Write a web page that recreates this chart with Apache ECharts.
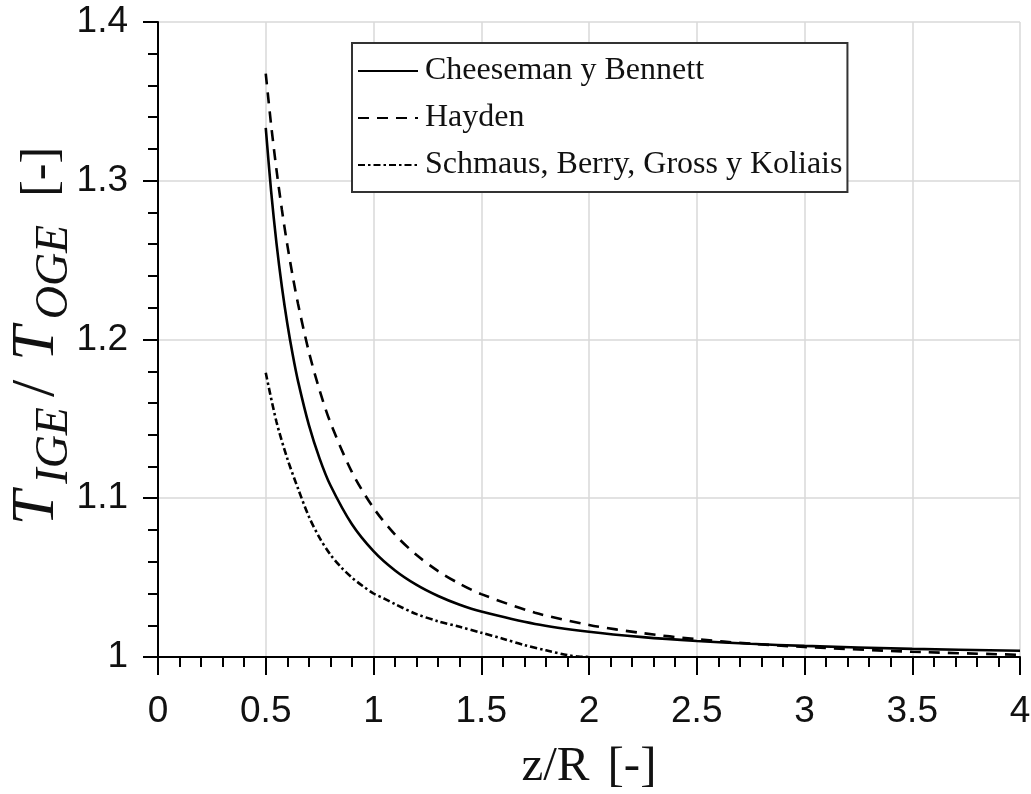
<!DOCTYPE html>
<html>
<head>
<meta charset="utf-8">
<script src="https://cdn.jsdelivr.net/npm/echarts@6/dist/echarts.min.js"></script>
<style>
html,body{margin:0;padding:0;background:#fff;}
#chart{width:1031px;height:794px;}
</style>
</head>
<body>
<div id="chart"></div>
<script>
// ---- Data ----
const seriesNames = ['Cheeseman y Bennett', 'Hayden', 'Schmaus, Berry, Gross y Koliais'];

const cbX = [0.5,0.525,0.55,0.575,0.6,0.625,0.65,0.7,0.75,0.8,0.9,1.0,1.1,1.2,1.3,1.4,1.5,1.75,2.0,2.25,2.5,2.75,3.0,3.5,4.0];
const cbY = [1.3333,1.2933,1.2604,1.2331,1.2101,1.1905,1.1736,1.1462,1.125,1.1082,1.0836,1.0667,1.0545,1.0454,1.0384,1.0329,1.0286,1.0208,1.0159,1.0125,1.0101,1.0083,1.0070,1.0051,1.0039];

const hayX = [0.5,0.525,0.55,0.575,0.6,0.625,0.65,0.7,0.75,0.8,0.9,1.0,1.1,1.2,1.3,1.4,1.5,1.75,2.0,2.25,2.5,2.75,3.0,3.5,4.0];
const hayY = [1.3675,1.3351,1.3067,1.2817,1.2596,1.2400,1.2223,1.1923,1.1679,1.1477,1.1165,1.0939,1.0771,1.0642,1.0541,1.0461,1.0396,1.0279,1.0202,1.0150,1.0112,1.0084,1.0063,1.0033,1.0014];

const sbgkX = [0.5,0.55,0.6,0.65,0.7,0.75,0.8,0.85,0.9,0.95,1.0,1.05,1.1,1.2,1.3,1.4,1.5,1.6,1.7,1.8,1.9,1.95,2.0];
const sbgkY = [1.179,1.148,1.125,1.106,1.0885,1.075,1.0645,1.0565,1.050,1.0447,1.040,1.0368,1.0333,1.027,1.0225,1.019,1.0153,1.0115,1.0075,1.0042,1.0012,1.0003,1.0];

const xTicks = [0, 0.5, 1, 1.5, 2, 2.5, 3, 3.5, 4];
const yTicks = [1, 1.1, 1.2, 1.3, 1.4];

// ---- Chart ----
const pairs = (xs, ys) => xs.map((x, i) => [x, ys[i]]);
const chart = echarts.init(document.getElementById('chart'), null, {renderer: 'canvas'});

const serif = '"Liberation Serif", "Times New Roman", serif';
const sans = '"Liberation Sans", Arial, Helvetica, sans-serif';

const option = {
  backgroundColor: '#ffffff',
  animation: false,
  grid: {left: 158, right: 11, top: 22, bottom: 137, containLabel: false, outerBoundsMode: 'none'},
  legend: {
    orient: 'vertical',
    left: 352, top: 43,
    data: seriesNames,
    backgroundColor: '#ffffff',
    borderColor: '#333333',
    borderWidth: 2,
    borderRadius: 0,
    padding: [12, 5, 11, 5],
    itemWidth: 60,
    itemHeight: 20,
    itemGap: 15,
    itemStyle: {opacity: 0},
    textStyle: {fontFamily: serif, fontSize: 32, color: '#111', padding: [0, 0, 0, 2]}
  },
  xAxis: {
    type: 'value',
    min: xTicks[0], max: xTicks[xTicks.length - 1], interval: 0.5,
    name: '{a|z/R}{b|[-]}',
    nameLocation: 'middle',
    nameGap: 86,
    nameMoveOverlap: false,
    nameTextStyle: {
      rich: {
        a: {fontFamily: serif, fontSize: 49, color: '#111', padding: [0, 18, 0, 0]},
        b: {fontFamily: serif, fontSize: 49, color: '#111'}
      }
    },
    axisLine: {show: true, onZero: false, lineStyle: {color: '#000', width: 2}},
    axisTick: {show: true, inside: false, length: 18, lineStyle: {color: '#000', width: 2}},
    minorTick: {show: true, splitNumber: 5, length: 10, lineStyle: {color: '#000', width: 2}},
    axisLabel: {fontFamily: sans, fontSize: 37, color: '#111', margin: 36,
      formatter: v => String(v)},
    splitLine: {show: true, lineStyle: {color: '#d8d8d8', width: 1.5}},
    minorSplitLine: {show: false}
  },
  yAxis: {
    type: 'value',
    min: yTicks[0], max: yTicks[yTicks.length - 1], interval: 0.1,
    name: '{t|T}{s|IGE}{sl|/}{t|T}{s|OGE}{n|[-]}',
    nameLocation: 'middle',
    nameGap: 80,
    nameMoveOverlap: false,
    nameTextStyle: {
      rich: {
        t: {fontFamily: serif, fontStyle: 'italic', fontSize: 62, color: '#111', padding: [0, 7, 10, 7]},
        sl: {fontFamily: serif, fontSize: 62, color: '#111', padding: [0, 12, 10, 10]},
        s: {fontFamily: serif, fontStyle: 'italic', fontSize: 46, color: '#111', verticalAlign: 'bottom', lineHeight: 46},
        n: {fontFamily: serif, fontSize: 50, color: '#111', padding: [0, 0, 0, 28]}
      }
    },
    axisLine: {show: true, onZero: false, lineStyle: {color: '#000', width: 2}},
    axisTick: {show: true, inside: false, length: 15, lineStyle: {color: '#000', width: 2}},
    minorTick: {show: true, splitNumber: 5, length: 10, lineStyle: {color: '#000', width: 2}},
    axisLabel: {fontFamily: sans, fontSize: 37, color: '#111', margin: 30,
      formatter: v => String(Math.round(v * 10) / 10)},
    splitLine: {show: true, lineStyle: {color: '#d8d8d8', width: 1.5}},
    minorSplitLine: {show: false}
  },
  series: [
    {
      name: seriesNames[0], type: 'line', data: pairs(cbX, cbY),
      symbol: 'none', smooth: 0.3,
      lineStyle: {color: '#000', width: 2.6, type: 'solid'},
      itemStyle: {color: '#000'}, z: 3
    },
    {
      name: seriesNames[1], type: 'line', data: pairs(hayX, hayY),
      symbol: 'none', smooth: 0.3,
      lineStyle: {color: '#000', width: 2.6, type: [11, 8]},
      itemStyle: {color: '#000'}, z: 3
    },
    {
      name: seriesNames[2], type: 'line', data: pairs(sbgkX, sbgkY),
      symbol: 'none', smooth: 0.3,
      lineStyle: {color: '#000', width: 2.6, type: [7, 3, 2.5, 3]},
      itemStyle: {color: '#000'}, z: 3
    }
  ]
};
chart.setOption(option);
</script>
</body>
</html>
